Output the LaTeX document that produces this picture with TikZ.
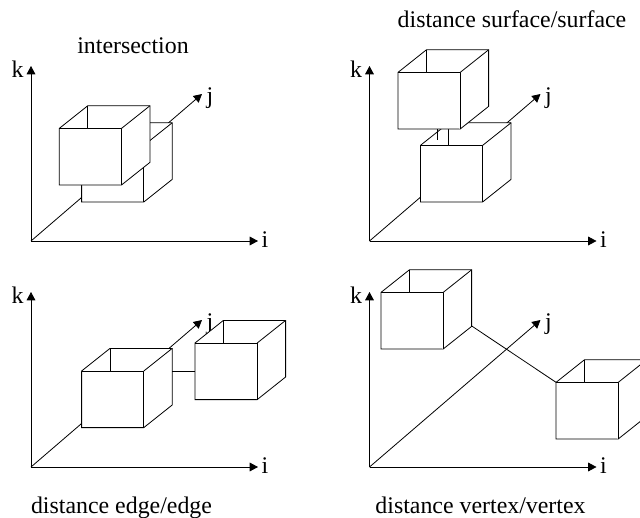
\documentclass[tikz,border=0pt]{standalone}
\usepackage{fontspec}
\setmainfont{Liberation Serif}
\usetikzlibrary{arrows.meta}
\tikzset{
  lbl/.style={inner sep=0pt,font=\fontsize{17.9}{20}\selectfont},
  axis/.style={line width=0.6pt,-{Triangle[length=6.2pt,width=6.5pt]}},
  link/.style={line width=0.6pt},
  face/.style={line width=0.6pt,fill=white,line join=miter}
}
% #1 name, #2 left x, #3 top y of the front face
\newcommand{\boxcube}[3]{%
  \coordinate (#1a) at (#2,#3);
  \coordinate (#1b) at ({#2+62.2},#3);
  \coordinate (#1c) at ({#2+62.2},{#3+56.6});
  \coordinate (#1d) at (#2,{#3+56.6});
  \coordinate (#1e) at ({#2+28.4},{#3-22.6});
  \coordinate (#1f) at ({#2+90.6},{#3-22.6});
  \coordinate (#1g) at ({#2+90.6},{#3+34});
  \coordinate (#1h) at ({#2+28.4},#3);
  \draw[face] (#1a) -- (#1e) -- (#1f) -- (#1g) -- (#1c) -- (#1d) -- cycle;
  \draw[face] (#1a) -- (#1b) -- (#1c);
  \draw[face] (#1b) -- (#1f);
  \draw[face] (#1e) -- (#1h);
}
% #1 name, #2 origin x, #3 origin y
\newcommand{\axes}[3]{%
  \coordinate (#1o) at (#2,#3);
  \coordinate (#1k) at (#2,{#3-175});
  \coordinate (#1i) at ({#2+227},#3);
  \coordinate (#1j) at ({#2+171},{#3-147});
  \draw[axis] (#1o) -- (#1k);
  \draw[axis] (#1o) -- (#1i);
  \draw[axis] (#1o) -- (#1j);
  \node[lbl,anchor=base] (#1kl) at ({#2-13.5},{#3-164}) {k};
  \node[lbl,anchor=base] (#1il) at ({#2+234},{#3+6}) {i};
  \node[lbl,anchor=base] (#1jl) at ({#2+179},{#3-138}) {j};
}
\begin{document}
\begin{tikzpicture}[x=0.75pt,y=-0.75pt]
\clip (0,0) rectangle (640,518);
% top left
\axes{p}{31}{241}
\boxcube{pb}{81.6}{145.4}
\boxcube{pf}{59.3}{128.4}
\node[lbl,anchor=base] (t1) at (133,53.5) {intersection};
% top right
\axes{q}{369.5}{241}
\boxcube{qb}{420.4}{145.4}
\coordinate (qs) at (437.3,140);
\boxcube{qf}{398}{72.4}
\coordinate (qt) at (437.3,129);
\draw[link] (qt) -- (qs);
\node[lbl,anchor=base] (t2) at (512,27.5) {distance surface/surface};
% bottom left
\axes{r}{31}{467}
\boxcube{rb}{81.6}{371}
\boxcube{rf}{195}{343}
\coordinate (rm) at (172.2,371);
\draw[link] (rm) -- (rfa|-rm);
\node[lbl,anchor=base] (t3) at (121.5,513) {distance edge/edge};
% bottom right
\axes{s}{369.5}{467}
\draw[link] (471.6,325.9) coordinate (sc) -- (556,382.3) coordinate (sd);
\boxcube{sa}{381}{292.4}
\boxcube{sf}{556}{382.4}
\node[lbl,anchor=base] (t4) at (480.5,513) {distance vertex/vertex};
\end{tikzpicture}
\end{document}
